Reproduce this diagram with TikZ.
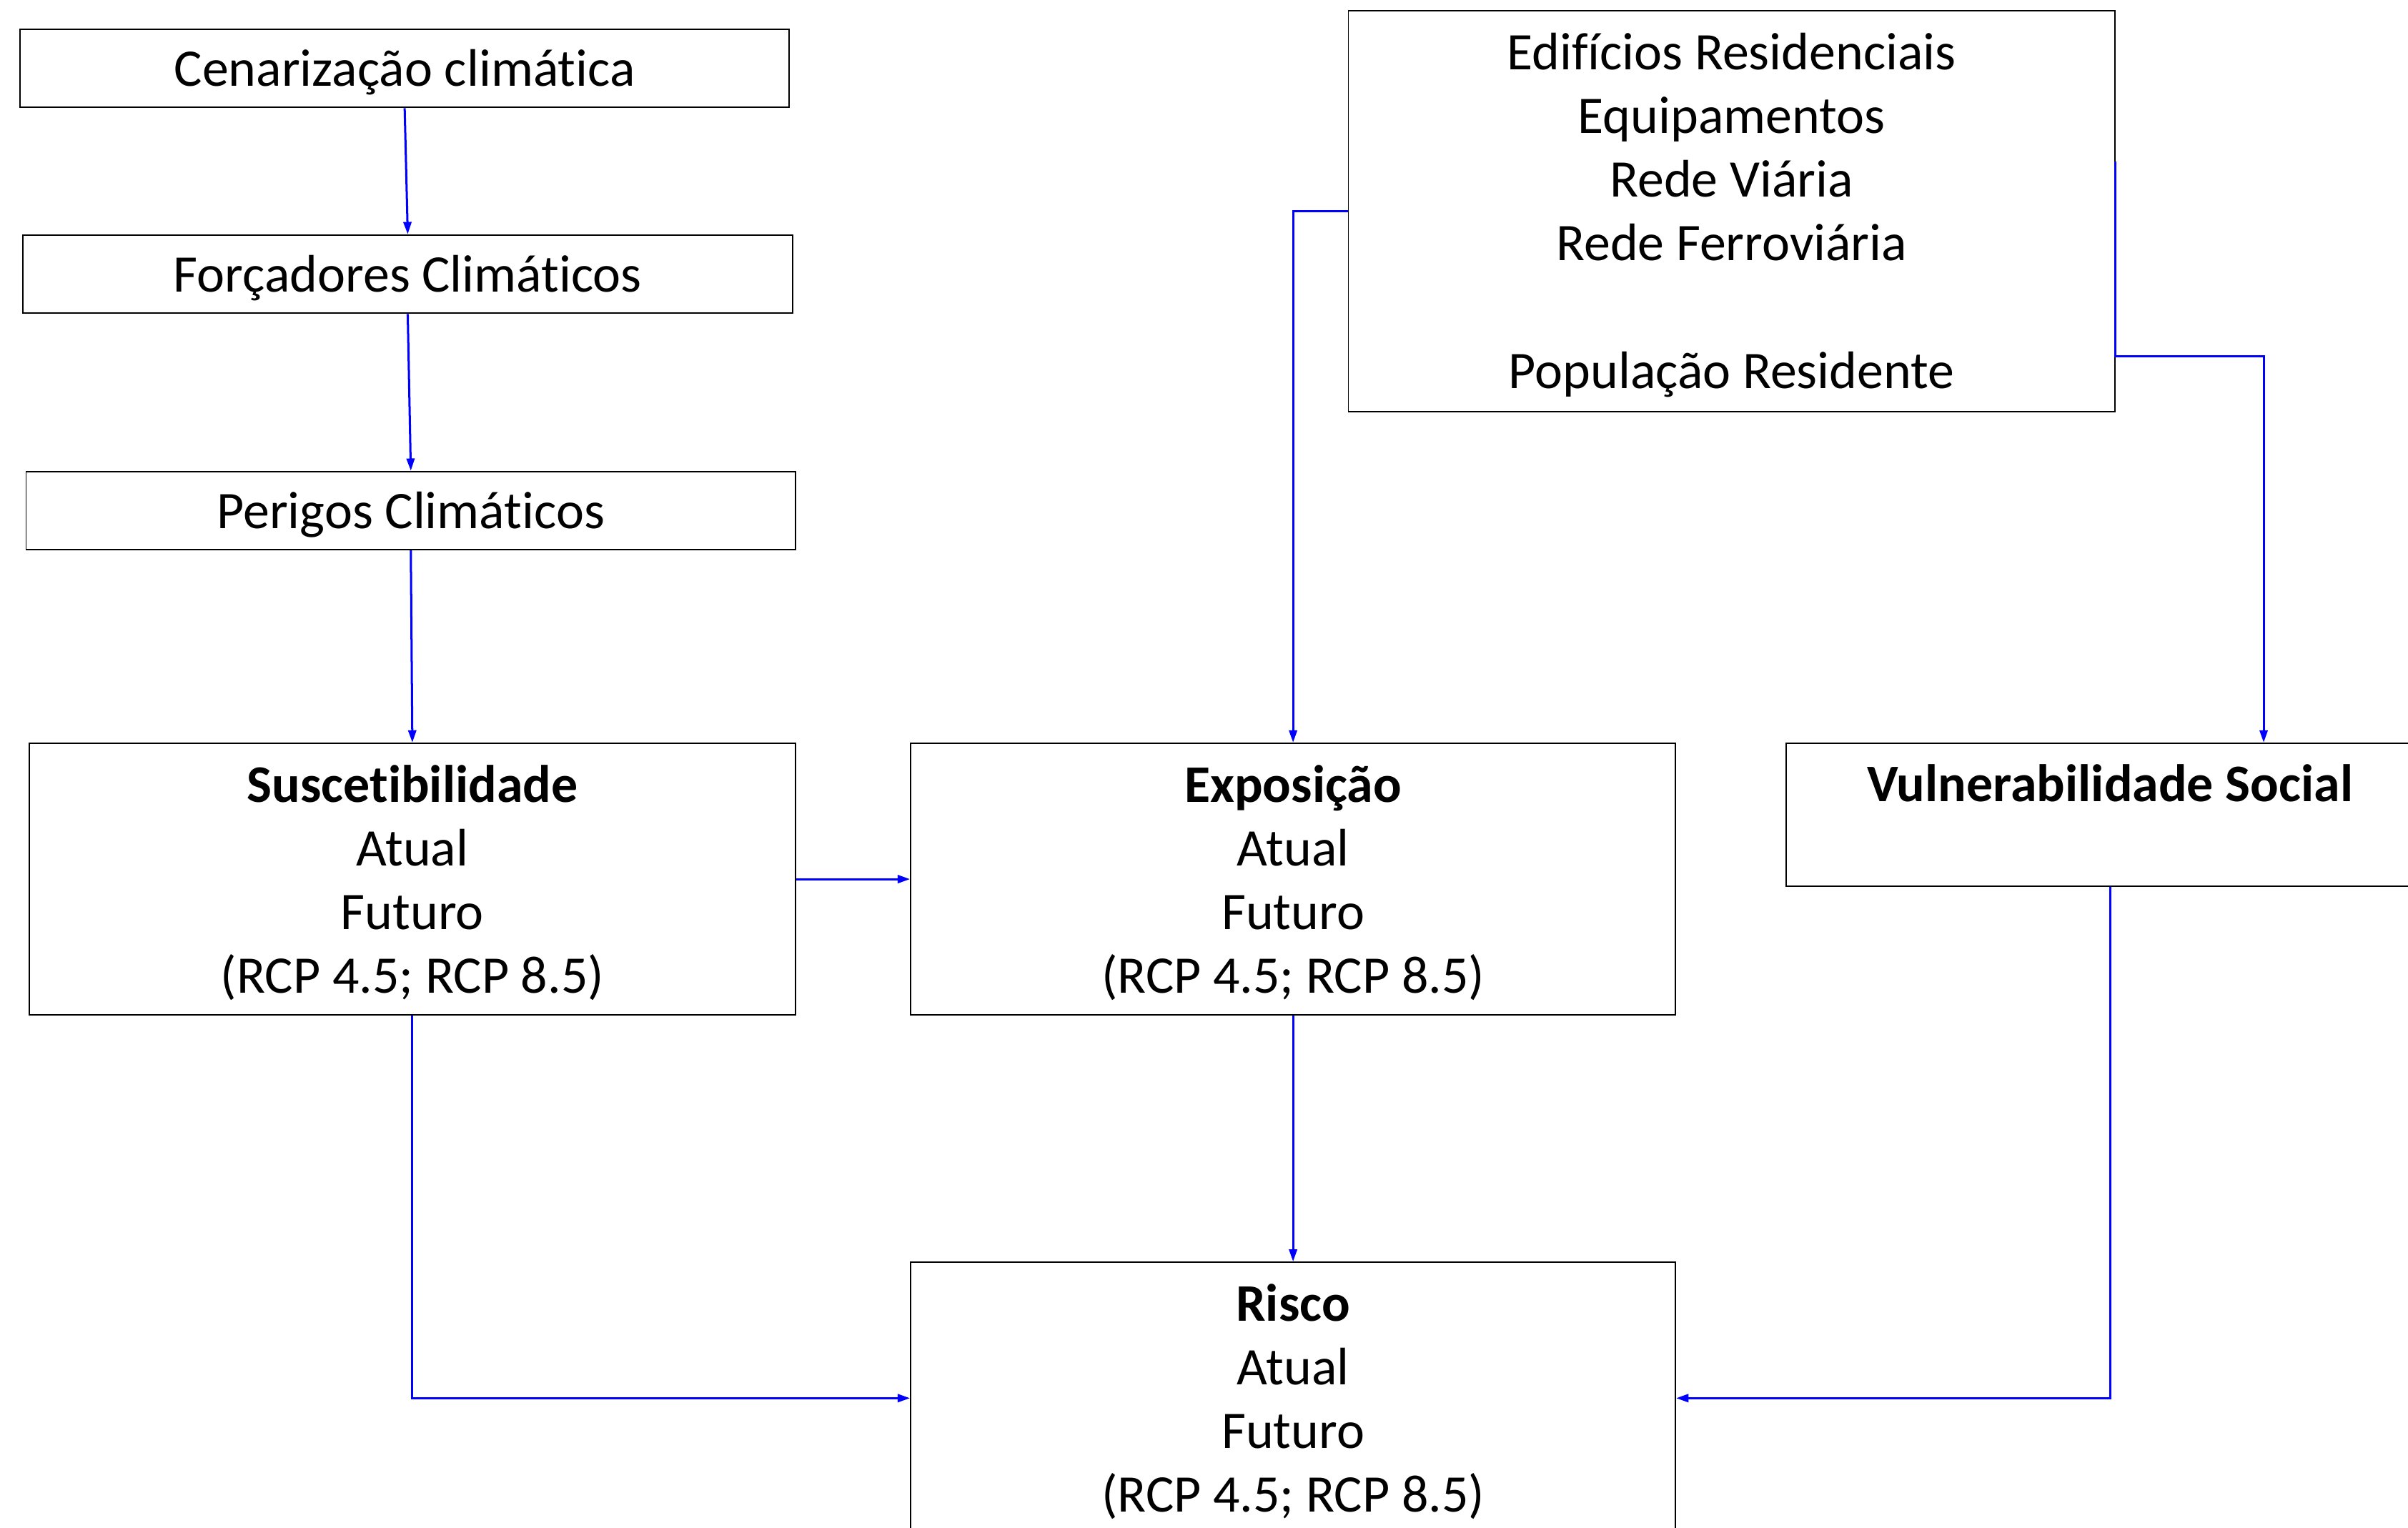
\documentclass[tikz,border=0pt]{standalone}
\usepackage{fontspec}
\setmainfont{Carlito}[Ligatures=NoCommon]
\usetikzlibrary{arrows.meta,calc}
\newcommand{\mytopstrut}{\rule{0pt}{14.4pt}}
\begin{document}
\begin{tikzpicture}[x=0.5pt,y=-0.5pt,
  box/.style={draw=black,line width=0.45pt,rectangle,inner sep=0pt,align=center,
    font=\fontsize{17.2}{20.75}\selectfont,
    execute at begin node={\rule{0pt}{14.6pt}}},
  plainbox/.style={draw=black,line width=0.45pt,rectangle,inner sep=0pt,align=center,
    font=\fontsize{17.2}{20.75}\selectfont},
  conn/.style={draw=blue,line width=0.7pt,-{Triangle[length=4pt,width=2.6pt]}}]
\useasboundingbox (0,0) rectangle (1568,995);
\node[box,minimum width=250.5pt,minimum height=25.5pt] (cen) at (263.5,44.5) {Cenarização climática};
\node[box,minimum width=250.5pt,minimum height=25.5pt] (for) at (265.5,178.5) {Forçadores Climáticos};
\node[box,minimum width=250.5pt,minimum height=25.5pt] (per) at (267.5,332.5) {Perigos Climáticos};
\node[plainbox,minimum width=249.5pt,minimum height=88.5pt] (sus) at (268.5,572.5) {\mytopstrut\textbf{Suscetibilidade}\\Atual\\Futuro\\(RCP 4.5; RCP 8.5)};
\node[plainbox,minimum width=249pt,minimum height=88.5pt] (exp) at (842,572.5) {\mytopstrut\textbf{Exposição}\\Atual\\Futuro\\(RCP 4.5; RCP 8.5)};
\node[plainbox,minimum width=211pt,minimum height=46.5pt] (vul) at (1374,530.5) {\textbf{Vulnerabilidade Social}\\\mbox{}};
\node[plainbox,minimum width=249.5pt,minimum height=130.5pt] (edi) at (1127.5,137.5) {\mytopstrut Edifícios Residenciais\\Equipamentos\\Rede Viária\\Rede Ferroviária\\[20.75pt]População Residente};
\node[plainbox,minimum width=249pt,minimum height=88.5pt] (ris) at (842,910.5) {\mytopstrut\textbf{Risco}\\Atual\\Futuro\\(RCP 4.5; RCP 8.5)};
\draw[conn] (cen.south) -- (for.north);
\draw[conn] (for.south) -- (per.north);
\draw[conn] (per.south) -- (sus.north);
\draw[conn] (sus.east) -- (exp.west);
\draw[conn] (edi.west) -| (exp.north);
\draw[conn] ($(edi.east)+(0,-32.5)$) -- ($(edi.east)+(0,94.5)$) -| ($(vul.north)+(100,0)$);
\draw[conn] (exp.south) -- (ris.north);
\draw[conn] (sus.south) |- (ris.west);
\draw[conn] (vul.south) |- (ris.east);
\end{tikzpicture}
\end{document}
